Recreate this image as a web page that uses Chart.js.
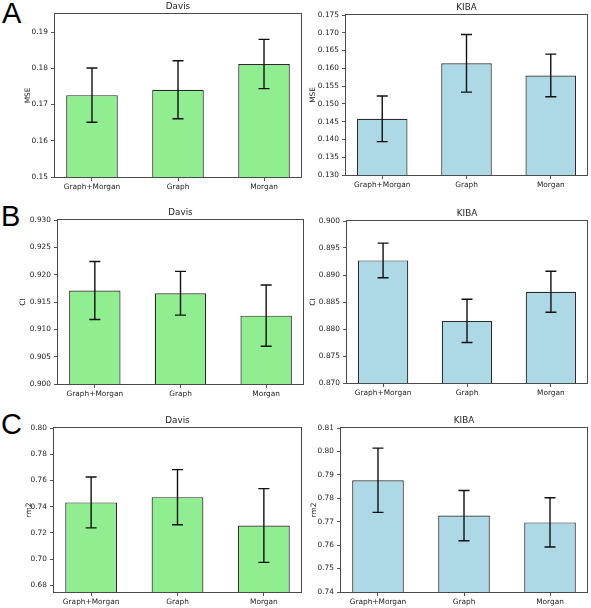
<!DOCTYPE html>
<html><head><meta charset="utf-8">
<script src="https://cdn.jsdelivr.net/npm/chart.js@4.4.0/dist/chart.umd.min.js"></script>
<style>
html,body{margin:0;padding:0;background:#fff;width:591px;height:608px;overflow:hidden;position:relative;}
canvas{position:absolute;}
.lbl{position:absolute;font-family:"Liberation Sans",Arial,sans-serif;font-size:29px;line-height:29px;color:#000;}
</style></head><body>
<div class="lbl" style="left:2px;top:-1px">A</div>
<div class="lbl" style="left:1px;top:202px">B</div>
<div class="lbl" style="left:1px;top:410px">C</div>
<script>
const categories = ['Graph+Morgan', 'Graph', 'Morgan'];

const davisMse = [0.1726, 0.1741, 0.1812];
const davisMseErr = [0.0075, 0.0080, 0.0068];
const kibaMse = [0.1458, 0.1614, 0.1580];
const kibaMseErr = [0.0064, 0.0081, 0.0060];

const davisCi = [0.9171, 0.9166, 0.9125];
const davisCiErr = [0.0053, 0.0040, 0.0056];
const kibaCi = [0.8927, 0.8815, 0.8869];
const kibaCiErr = [0.0032, 0.0040, 0.0038];

const davisRm2 = [0.7433, 0.7473, 0.7257];
const davisRm2Err = [0.0194, 0.0210, 0.0281];
const kibaRm2 = [0.7877, 0.7726, 0.7697];
const kibaRm2Err = [0.0137, 0.0107, 0.0105];

const davisMseTicks = ['0.15', '0.16', '0.17', '0.18', '0.19'];
const kibaMseTicks = ['0.130', '0.135', '0.140', '0.145', '0.150', '0.155', '0.160', '0.165', '0.170', '0.175'];
const davisCiTicks = ['0.900', '0.905', '0.910', '0.915', '0.920', '0.925', '0.930'];
const kibaCiTicks = ['0.870', '0.875', '0.880', '0.885', '0.890', '0.895', '0.900'];
const davisRm2Ticks = ['0.68', '0.70', '0.72', '0.74', '0.76', '0.78', '0.80'];
const kibaRm2Ticks = ['0.74', '0.75', '0.76', '0.77', '0.78', '0.79', '0.80', '0.81'];

const GREEN = '#90EE90', BLUE = '#ADD8E6';

const panels = [
  {title:'Davis', ylabel:'MSE', values:davisMse, errs:davisMseErr, ticks:davisMseTicks, ymin:0.15, ymax:0.195, color:GREEN, box:[55,14,301,177], labelX:27.7},
  {title:'KIBA', ylabel:'MSE', values:kibaMse, errs:kibaMseErr, ticks:kibaMseTicks, ymin:0.130, ymax:0.175, color:BLUE, box:[346,15,587,175], labelX:313.3},
  {title:'Davis', ylabel:'CI', values:davisCi, errs:davisCiErr, ticks:davisCiTicks, ymin:0.900, ymax:0.930, color:GREEN, box:[58,220,303,384], labelX:23.5},
  {title:'KIBA', ylabel:'CI', values:kibaCi, errs:kibaCiErr, ticks:kibaCiTicks, ymin:0.870, ymax:0.900, color:BLUE, box:[347,221,587,383], labelX:312.7},
  {title:'Davis', ylabel:'rm2', values:davisRm2, errs:davisRm2Err, ticks:davisRm2Ticks, ymin:0.675, ymax:0.80, color:GREEN, box:[54,428,301,592], labelX:29.3},
  {title:'KIBA', ylabel:'rm2', values:kibaRm2, errs:kibaRm2Err, ticks:kibaRm2Ticks, ymin:0.74, ymax:0.81, color:BLUE, box:[341,428,587,592], labelX:314.5}
];

Chart.defaults.font.family = "'DejaVu Sans', sans-serif";
Chart.defaults.color = '#222';

const errorBars = {
  id: 'errorBars',
  afterDatasetsDraw(chart, args, opts) {
    const {ctx, scales: {x, y}} = chart;
    const vals = chart.data.datasets[0].data;
    const errs = opts.errs;
    ctx.save();
    ctx.strokeStyle = '#111';
    ctx.lineWidth = 1.4;
    vals.forEach((pt, i) => {
      const px = x.getPixelForValue(pt.x);
      const yt = y.getPixelForValue(pt.y + errs[i]);
      const yb = y.getPixelForValue(pt.y - errs[i]);
      ctx.beginPath();
      ctx.moveTo(px, yt); ctx.lineTo(px, yb);
      ctx.moveTo(px - 5.5, yt); ctx.lineTo(px + 5.5, yt);
      ctx.moveTo(px - 5.5, yb); ctx.lineTo(px + 5.5, yb);
      ctx.stroke();
    });
    ctx.restore();
  }
};

const frame = {
  id: 'frame',
  afterDraw(chart) {
    const {ctx, chartArea: a} = chart;
    ctx.save();
    ctx.strokeStyle = '#4a4a4a';
    ctx.lineWidth = 1;
    ctx.strokeRect(Math.round(a.left) - 0.5, Math.round(a.top) - 0.5, Math.round(a.right - a.left) + 1, Math.round(a.bottom - a.top) + 1);
    ctx.restore();
  }
};

function makePanel(p) {
  const yW = 40, titleH = 19, xH = 24, rPad = 4;
  const [L, T, R, B] = p.box;
  const plotW = R - L, plotH = B - T;
  const cv = document.createElement('canvas');
  const cl = L - yW, ct = T - titleH;
  cv.width = yW + plotW + rPad;
  cv.height = titleH + plotH + xH;
  cv.style.left = cl + 'px';
  cv.style.top = ct + 'px';
  cv.style.width = cv.width + 'px';
  cv.style.height = cv.height + 'px';
  document.body.appendChild(cv);
  const tickFont = {size: 7.4};
  const labelLH = 7.4 * 1.2;
  new Chart(cv, {
    type: 'bar',
    data: {
      datasets: [{
        data: p.values.map((v, i) => ({x: i, y: v})),
        backgroundColor: p.color,
        borderColor: '#2a2a2a',
        borderWidth: 1.2,
        barPercentage: 0.6,
        categoryPercentage: 1.0
      }]
    },
    options: {
      responsive: false,
      animation: false,
      devicePixelRatio: 1,
      layout: {padding: {left: 0, right: rPad, top: 0, bottom: 0}},
      plugins: {
        legend: {display: false},
        tooltip: {enabled: false},
        title: {display: true, text: p.title, fullSize: false, color: '#222',
          font: {size: 8.8, weight: 'normal', lineHeight: 1.25},
          padding: {top: 6.5, bottom: 1.5}},
        errorBars: {errs: p.errs}
      },
      scales: {
        x: {
          type: 'linear', min: -0.43, max: 2.43, offset: false,
          afterBuildTicks: s => { s.ticks = categories.map((c, i) => ({value: i})); },
          afterFit: s => { s.height = xH; },
          ticks: {font: tickFont, padding: 2, maxRotation: 0, autoSkip: false, color: '#222',
            callback: (v, i) => categories[i]},
          grid: {offset: false, drawOnChartArea: false, drawTicks: true, tickLength: 4, color: '#555'},
          border: {display: false}
        },
        y: {
          min: p.ymin, max: p.ymax,
          afterBuildTicks: s => { s.ticks = p.ticks.map(t => ({value: parseFloat(t)})); },
          afterFit: s => { s.width = yW; },
          ticks: {font: tickFont, padding: 3, color: '#222', callback: (v, i) => p.ticks[i]},
          grid: {drawOnChartArea: false, drawTicks: true, tickLength: 4, color: '#555'},
          border: {display: false},
          title: {display: true, text: p.ylabel, color: '#222', font: {size: 7.4, lineHeight: 1.2},
            padding: {top: p.labelX - cl - labelLH / 2, bottom: 0}}
        }
      }
    },
    plugins: [errorBars, frame]
  });
}

panels.forEach(makePanel);
</script>
</body></html>
